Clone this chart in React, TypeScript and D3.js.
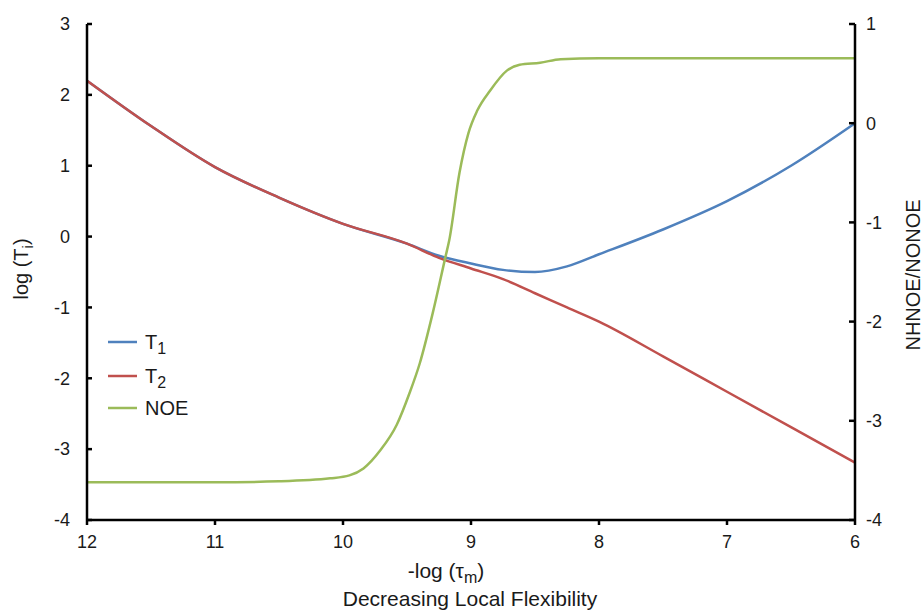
import React from "react";
import * as d3 from "d3";

const xT = [12, 11.5, 11, 10.5, 10, 9.5, 9.25, 9, 8.75, 8.5, 8.25, 8, 7.5, 7, 6.5, 6];
const T1 = [2.2, 1.56, 0.98, 0.55, 0.18, -0.1, -0.27, -0.38, -0.47, -0.5, -0.42, -0.25, 0.1, 0.5, 1.0, 1.6];
const T2 = [2.2, 1.56, 0.98, 0.55, 0.18, -0.1, -0.3, -0.45, -0.6, -0.8, -1.0, -1.2, -1.69, -2.19, -2.69, -3.19];

const xN = [12, 11, 10.5, 10.1, 9.95, 9.84, 9.71, 9.58, 9.48, 9.4, 9.3, 9.2, 9.17, 9.09, 9.02, 8.95, 8.85, 8.72, 8.62, 8.46, 8.3, 8, 7, 6];
const NOE = [-3.62, -3.62, -3.61, -3.58, -3.55, -3.48, -3.3, -3.04, -2.72, -2.42, -1.92, -1.35, -1.18, -0.5, -0.1, 0.13, 0.33, 0.53, 0.59, 0.61, 0.645, 0.655, 0.655, 0.655];

const xTicks = [12, 11, 10, 9, 8, 7, 6];
const yLeftTicks = [3, 2, 1, 0, -1, -2, -3, -4];
const yRightTicks = [1, 0, -1, -2, -3, -4];

const COLORS = { T1: "#4F81BD", T2: "#C0504D", NOE: "#9BBB59" };
const FONT = "'Liberation Sans', Arial, sans-serif";
const INK = "#1a1a1a";

export default function App() {
  const W = 924, H = 611;
  const x = d3.scaleLinear().domain([12, 6]).range([87, 855]);
  const yL = d3.scaleLinear().domain([-4, 3]).range([520, 24]);
  const yR = d3.scaleLinear().domain([-4, 1]).range([520, 24]);

  const lineL = d3.line<[number, number]>().x(d => x(d[0])).y(d => yL(d[1])).curve(d3.curveMonotoneX);
  const lineR = d3.line<[number, number]>().x(d => x(d[0])).y(d => yR(d[1])).curve(d3.curveMonotoneX);

  const t1Path = lineL(xT.map((v, i) => [v, T1[i]] as [number, number])) || "";
  const t2Path = lineL(xT.map((v, i) => [v, T2[i]] as [number, number])) || "";
  const noePath = lineR(xN.map((v, i) => [v, NOE[i]] as [number, number])) || "";

  const legend = [
    { label: "T", sub: "1", color: COLORS.T1 },
    { label: "T", sub: "2", color: COLORS.T2 },
    { label: "NOE", sub: "", color: COLORS.NOE },
  ];
  const legendY = [342, 376, 408];

  return (
    <svg width={W} height={H} style={{ position: "absolute", left: 0, top: 0, background: "#fff" }} fontFamily={FONT}>
      <rect width={W} height={H} fill="#fff" />
      {/* series */}
      <path d={t1Path} fill="none" stroke={COLORS.T1} strokeWidth={2.5} />
      <path d={t2Path} fill="none" stroke={COLORS.T2} strokeWidth={2.5} />
      <path d={noePath} fill="none" stroke={COLORS.NOE} strokeWidth={2.5} />

      {/* left axis */}
      <line x1={x(12)} x2={x(12)} y1={yL(3)} y2={yL(-4)} stroke="#000" strokeWidth={2.5} />
      {yLeftTicks.map(t => (
        <g key={"yl" + t}>
          <line x1={x(12)} x2={x(12) + 5} y1={yL(t)} y2={yL(t)} stroke="#000" strokeWidth={2.5} />
          <text x={70} y={yL(t)} dy="0.35em" textAnchor="end" fontSize={18} fill={INK}>{t}</text>
        </g>
      ))}
      {/* right axis */}
      <line x1={x(6)} x2={x(6)} y1={yR(1)} y2={yR(-4)} stroke="#000" strokeWidth={2.5} />
      {yRightTicks.map(t => (
        <g key={"yr" + t}>
          <line x1={x(6) - 6} x2={x(6)} y1={yR(t)} y2={yR(t)} stroke="#000" strokeWidth={2.5} />
          <text x={866} y={yR(t)} dy="0.35em" textAnchor="start" fontSize={18} fill={INK}>{t}</text>
        </g>
      ))}
      {/* bottom axis */}
      <line x1={x(12)} x2={x(6)} y1={yL(-4)} y2={yL(-4)} stroke="#000" strokeWidth={2.5} />
      {xTicks.map(t => (
        <g key={"x" + t}>
          <line x1={x(t)} x2={x(t)} y1={yL(-4)} y2={yL(-4) + 5} stroke="#000" strokeWidth={2.5} />
          <text x={x(t)} y={548} textAnchor="middle" fontSize={18} fill={INK}>{t}</text>
        </g>
      ))}

      {/* axis titles */}
      <text transform="translate(28,269) rotate(-90)" textAnchor="middle" fontSize={20} fill={INK}>
        log (T<tspan fontSize={15} dy={5}>i</tspan><tspan dy={-5}>)</tspan>
      </text>
      <text transform="translate(920,275) rotate(-90)" textAnchor="middle" fontSize={20} fill={INK}>
        NHNOE/NONOE
      </text>
      <text x={446} y={578} textAnchor="middle" fontSize={21} fill={INK}>
        -log (τ<tspan fontSize={16} dy={5}>m</tspan><tspan dy={-5}>)</tspan>
      </text>
      <text x={470} y={606} textAnchor="middle" fontSize={21} fill={INK}>
        Decreasing Local Flexibility
      </text>

      {/* legend */}
      {legend.map((l, i) => (
        <g key={l.label + l.sub}>
          <line x1={108} x2={137} y1={legendY[i]} y2={legendY[i]} stroke={l.color} strokeWidth={2.5} />
          <text x={145} y={legendY[i]} dy="0.35em" fontSize={20} fill={INK}>
            {l.label}
            {l.sub && <tspan fontSize={16} dy={5}>{l.sub}</tspan>}
          </text>
        </g>
      ))}
    </svg>
  );
}
